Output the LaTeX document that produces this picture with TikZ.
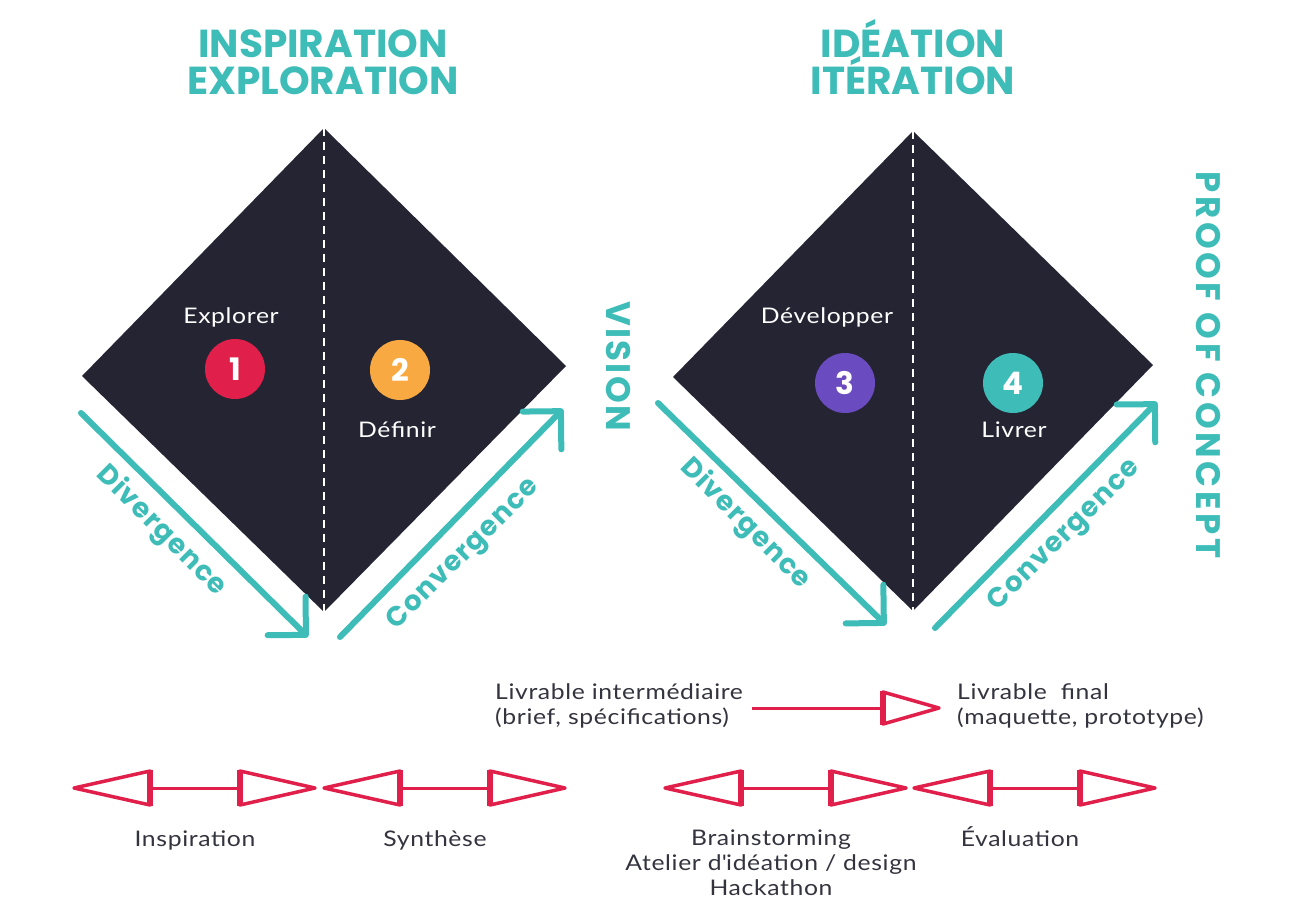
\documentclass[tikz,border=0pt]{standalone}
\usepackage{fontspec}
\setmainfont{Lato}
\newfontfamily\headfont{Poppins}
\newfontfamily\bodyfont{Lato}[FakeStretch=1.15, LetterSpace=3]
\newfontfamily\visionfont{Poppins}[LetterSpace=7]
\newfontfamily\pocfont{Poppins}[LetterSpace=11]
\newfontfamily\flowfont{Poppins}[LetterSpace=4]
\usetikzlibrary{arrows.meta}

\definecolor{ink}{HTML}{252433}
\definecolor{textgray}{HTML}{34343E}
\definecolor{tealc}{HTML}{3DBCB8}
\definecolor{crim}{HTML}{E0204B}
\definecolor{amberc}{HTML}{F9A942}
\definecolor{purp}{HTML}{6B4BC0}

\tikzset{
  heading/.style={text=tealc, font=\headfont\bfseries\fontsize{39}{42}\selectfont, inner sep=0pt, anchor=base},
  sidetitle/.style={text=tealc, inner sep=0pt, rotate=-90},
  flowlabel/.style={text=tealc, font=\flowfont\bfseries\fontsize{27.5}{30}\selectfont, inner sep=0pt},
  flowarrow/.style={draw=tealc, line width=6pt, line cap=round,
    -{Straight Barb[length=27pt,width=54pt,line width=6pt,round]}},
  stepnum/.style={circle, minimum size=60pt, inner sep=0pt, text=white,
    font=\headfont\bfseries\fontsize{31}{31}\selectfont},
  stepname/.style={text=white, font=\bodyfont\fontsize{21.5}{25}\selectfont, inner sep=0pt},
  caption/.style={text=textgray, font=\bodyfont\fontsize{21.5}{25}\selectfont, inner sep=0pt, align=center},
  tri/.style={draw=crim, line width=3.5pt, line join=round},
  triwide/.style={draw=crim, line width=6pt},
  stem/.style={draw=crim, line width=3pt},
}

\begin{document}
\begin{tikzpicture}[x=1pt,y=-1pt]
\useasboundingbox (0,0) rectangle (1289,913);
\fill[white] (0,0) rectangle (1289,913);

% ---- the two diamonds ----
\coordinate (aT) at (324,128); \coordinate (aB) at (324,612);
\coordinate (aL) at (82,376);  \coordinate (aR) at (566,366);
\coordinate (bT) at (913,131); \coordinate (bB) at (913,611);
\coordinate (bL) at (673,377); \coordinate (bR) at (1153,365);
\fill[ink] (aT) -- (aR) -- (aB) -- (aL) -- cycle;
\fill[ink] (bT) -- (bR) -- (bB) -- (bL) -- cycle;
\draw[white, line width=1.3pt, dash pattern=on 8pt off 6pt] (aT) -- (aB);
\draw[white, line width=1.3pt, dash pattern=on 8pt off 6pt] (bT) -- (bB);

% ---- headings ----
\node[heading] (h1) at (323,57) {INSPIRATION};
\node[heading] (h2) at (323,94) {EXPLORATION};
\node[heading] (h3) at (913,57) {IDÉATION};
\node[heading] (h4) at (913,94) {ITÉRATION};
\node[sidetitle, font=\visionfont\bfseries\fontsize{34}{36}\selectfont] (vis) at (618,366) {VISION};
\node[sidetitle, font=\pocfont\bfseries\fontsize{34}{36}\selectfont] (poc) at (1208,365) {PROOF OF CONCEPT};

% ---- steps ----
\node[stepname] (explorer) at (231,317) {Explorer};
\node[stepnum, fill=crim] (s1) at (235,369) {1};
\node[stepnum, fill=amberc] (s2) at (400,370) {2};
\node[stepname] (definir) at (397,430) {Définir};
\node[stepname] (dev) at (827,317) {Développer};
\node[stepnum, fill=purp] (s3) at (845,383) {3};
\node[stepnum, fill=tealc] (s4) at (1013,383) {4};
\node[stepname] (livrer) at (1014,430) {Livrer};

% ---- divergence / convergence arrows ----
\coordinate (d1s) at (81,413);  \coordinate (d1e) at (308,637);
\coordinate (c1s) at (340,637); \coordinate (c1e) at (563,409);
\coordinate (d2s) at (658,403); \coordinate (d2e) at (886,625);
\coordinate (c2s) at (935,628); \coordinate (c2e) at (1157,402);
\draw[flowarrow] (d1s) -- (d1e);
\draw[flowarrow] (c1s) -- (c1e);
\draw[flowarrow] (d2s) -- (d2e);
\draw[flowarrow] (c2s) -- (c2e);
\node[flowlabel, rotate=-45] (dl1) at (161,531) {Divergence};
\node[flowlabel, rotate=45]  (cl1) at (464,555) {Convergence};
\node[flowlabel, rotate=-45] (dl2) at (745,524) {Divergence};
\node[flowlabel, rotate=45]  (cl2) at (1065,536) {Convergence};

% ---- deliverables ----
\node[caption, anchor=west, align=left] (liv1) at (495,706)
  {Livrable intermédiaire\\(brief, spécifications)};
\node[caption, anchor=west, align=left] (liv2) at (957,706)
  {Livrable\ \ final\\(maquette, prototype)};
\coordinate (lvS) at (752,708); \coordinate (lvB) at (883,708); \coordinate (lvT) at (939,708);
\draw[stem] (lvS) -- (lvB);
\draw[tri] ([yshift=-16pt]lvB) -- (lvT) -- ([yshift=16pt]lvB) -- cycle;
\draw[triwide] ([yshift=-17pt]lvB) -- ([yshift=17pt]lvB);

% ---- activity spans ----
\foreach \n/\xa in {p/74, q/324, r/665, s/914} {
  \coordinate (\n L) at (\xa,788);
  \coordinate (\n A) at (\xa+76,788);
  \coordinate (\n B) at (\xa+166,788);
  \coordinate (\n R) at (\xa+241,788);
  \draw[stem] (\n A) -- (\n B);
  \draw[tri] (\n L) -- ([yshift=-17pt]\n A) -- ([yshift=17pt]\n A) -- cycle;
  \draw[tri] (\n R) -- ([yshift=-17pt]\n B) -- ([yshift=17pt]\n B) -- cycle;
  \draw[triwide] ([yshift=-18pt]\n A) -- ([yshift=18pt]\n A);
  \draw[triwide] ([yshift=-18pt]\n B) -- ([yshift=18pt]\n B);
}
\node[caption, anchor=base] (insp) at (195,846) {Inspiration};
\node[caption, anchor=base] (synt) at (435,846) {Synthèse};
\node[caption, anchor=north] (brain) at (771,830)
  {Brainstorming\\Atelier d\textquotesingle idéation / design\\Hackathon};
\node[caption, anchor=base] (eval) at (1020,846) {Évaluation};
\end{tikzpicture}
\end{document}
